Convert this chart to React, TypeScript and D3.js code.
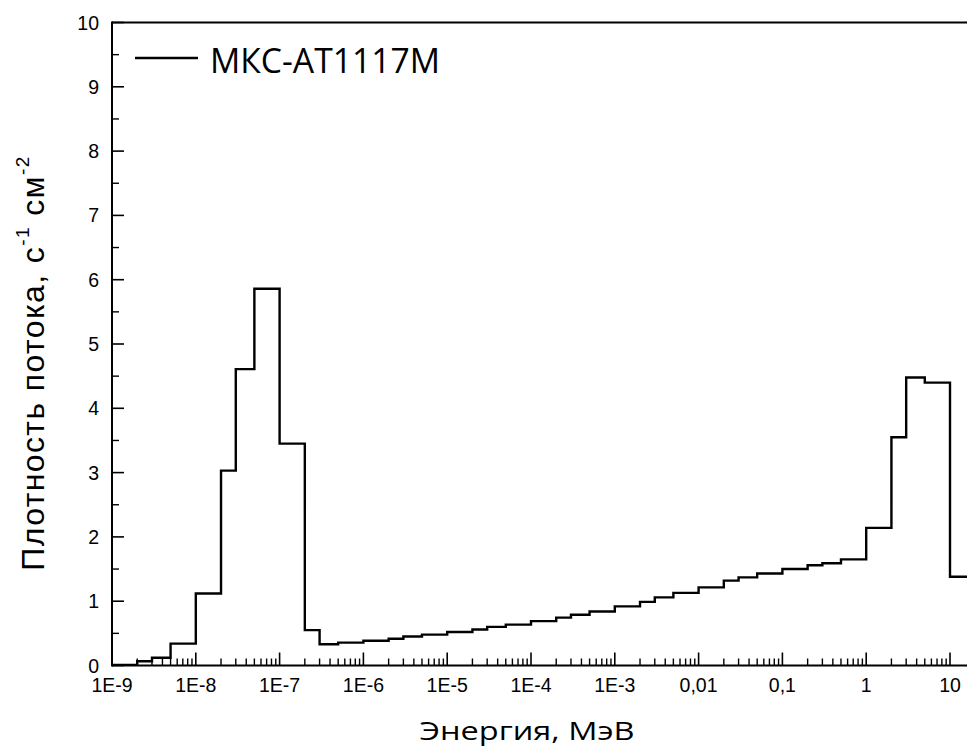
import React from "react";
import * as d3 from "d3";

const binEdges = [
  1e-9, 2e-9, 3e-9, 5e-9,
  1e-8, 2e-8, 3e-8, 5e-8,
  1e-7, 2e-7, 3e-7, 5e-7,
  1e-6, 2e-6, 3e-6, 5e-6,
  1e-5, 2e-5, 3e-5, 5e-5,
  1e-4, 2e-4, 3e-4, 5e-4,
  1e-3, 2e-3, 3e-3, 5e-3,
  1e-2, 2e-2, 3e-2, 5e-2,
  0.1, 0.2, 0.3, 0.5,
  1, 2, 3, 5,
  10, 20,
];

const fluxValues = [
  0.01, 0.065, 0.12, 0.34,
  1.12, 3.03, 4.61, 5.86,
  3.45, 0.55, 0.33, 0.355,
  0.385, 0.415, 0.45, 0.48,
  0.52, 0.56, 0.6, 0.635,
  0.69, 0.745, 0.79, 0.84,
  0.92, 0.99, 1.06, 1.13,
  1.215, 1.32, 1.37, 1.43,
  1.5, 1.56, 1.59, 1.65,
  2.14, 3.55, 4.48, 4.4,
  1.38,
];

const xTickValues = [1e-9, 1e-8, 1e-7, 1e-6, 1e-5, 1e-4, 1e-3, 1e-2, 0.1, 1, 10];
const xTickLabels = ["1E-9", "1E-8", "1E-7", "1E-6", "1E-5", "1E-4", "1E-3", "0,01", "0,1", "1", "10"];
const yTickValues = [0, 1, 2, 3, 4, 5, 6, 7, 8, 9, 10];

const seriesName = "МКС-АТ1117М";
const xTitle = "Энергия, МэВ";

export default function App() {
  const W = 967, H = 753;
  const x = d3.scaleLog().domain([1e-9, 10]).range([112, 950]);
  const y = d3.scaleLinear().domain([0, 10]).range([665.5, 22.5]);
  const left = 112, bottom = y(0), top = y(10);
  const right = x(100);

  const pts: [number, number][] = [];
  fluxValues.forEach((v, i) => {
    pts.push([x(binEdges[i]), y(v)]);
    pts.push([x(binEdges[i + 1]), y(v)]);
  });
  const line = d3.line<[number, number]>().x(d => d[0]).y(d => d[1]);
  const pathD = line([[x(binEdges[0]), y(0)], ...pts]) || "";

  const minorX: number[] = [];
  for (let i = 0; i < xTickValues.length; i++) {
    for (let m = 2; m <= 9; m++) minorX.push(xTickValues[i] * m);
  }
  const minorY: number[] = yTickValues.slice(0, -1).map(v => v + 0.5);

  const tickFont = "'Liberation Sans', Arial, sans-serif";
  const titleFont = "'Open Sans', 'Noto Sans', sans-serif";

  return (
    <svg width={W} height={H} style={{ position: "absolute", left: 0, top: 0, background: "#fff" }}>
      <rect x={0} y={0} width={W} height={H} fill="#fff" />
      <defs>
        <clipPath id="plotclip">
          <rect x={left} y={top - 2} width={right - left} height={bottom - top + 4} />
        </clipPath>
      </defs>
      <line x1={left} x2={right} y1={bottom} y2={bottom} stroke="#000" strokeWidth={2} />
      <line x1={left} x2={right} y1={top} y2={top} stroke="#000" strokeWidth={2} />
      <line x1={left} x2={left} y1={top - 1} y2={bottom + 1} stroke="#000" strokeWidth={2} />
      {xTickValues.map((v, i) => (
        <g key={"xt" + i}>
          <line x1={x(v)} x2={x(v)} y1={bottom} y2={bottom - 13} stroke="#000" strokeWidth={1.6} />
          <text x={x(v)} y={692} textAnchor="middle" fontFamily={tickFont} fontSize={19.5} fill="#000">
            {xTickLabels[i]}
          </text>
        </g>
      ))}
      {minorX.map((v, i) => (
        <line key={"xm" + i} x1={x(v)} x2={x(v)} y1={bottom} y2={bottom - 7} stroke="#000" strokeWidth={1.4} />
      ))}
      {yTickValues.map((v, i) => (
        <g key={"yt" + i}>
          <line x1={left} x2={left + 12} y1={y(v)} y2={y(v)} stroke="#000" strokeWidth={1.6} />
          <text x={99} y={y(v) + 7} textAnchor="end" fontFamily={tickFont} fontSize={19.5} fill="#000">
            {v}
          </text>
        </g>
      ))}
      {minorY.map((v, i) => (
        <line key={"ym" + i} x1={left} x2={left + 7} y1={y(v)} y2={y(v)} stroke="#000" strokeWidth={1.4} />
      ))}
      <path d={pathD} fill="none" stroke="#000" strokeWidth={2.4} strokeLinejoin="miter" clipPath="url(#plotclip)" />
      <line x1={135} x2={198} y1={58} y2={58} stroke="#000" strokeWidth={2.6} />
      <text x={210} y={72.5} fontFamily={titleFont} fontSize={35} fill="#000" textLength={230} lengthAdjust="spacingAndGlyphs">
        {seriesName}
      </text>
      <text x={527} y={740} textAnchor="middle" fontFamily={titleFont} fontSize={26} fill="#000" textLength={215} lengthAdjust="spacingAndGlyphs">
        {xTitle}
      </text>
      <text transform="translate(44,363) rotate(-90)" textAnchor="middle" fontFamily={tickFont} fontSize={32} letterSpacing={1.4} fill="#000">
        Плотность потока, с
        <tspan fontSize={19} dy={-15}>-1</tspan>
        <tspan dy={15}> см</tspan>
        <tspan fontSize={19} dy={-15}>-2</tspan>
      </text>
    </svg>
  );
}
